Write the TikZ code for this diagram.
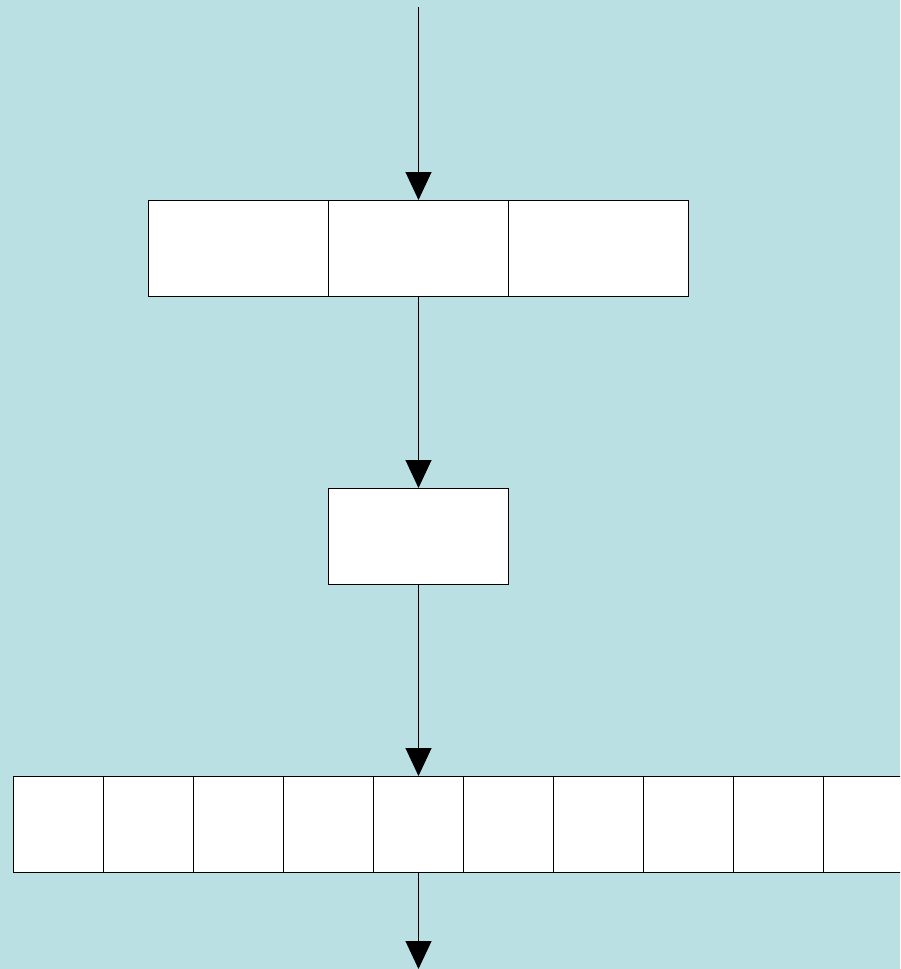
\documentclass[tikz,border=0pt]{standalone}
\usetikzlibrary{arrows.meta}
\definecolor{bgblue}{HTML}{BBE0E3}
\tikzset{
  cell/.style={draw=black, fill=white, line width=1pt, inner sep=0pt, outer sep=0pt, minimum width=#1, minimum height=96pt},
  cell/.default=180pt,
  flow/.style={draw=black, line width=1pt, -{Triangle[width=26pt,length=28pt]}}
}
\begin{document}
\begin{tikzpicture}[x=1pt,y=-1pt]
\fill[bgblue] (0,0) rectangle (900,969);
\useasboundingbox (0,0) rectangle (900,969);
\clip (0,0) rectangle (900,969);
% top row
\node[cell] (a1) at (238.5,248) {};
\node[cell] (a2) at (418.5,248) {};
\node[cell] (a3) at (598.5,248) {};
% middle box
\node[cell] (m) at (418.5,536) {};
% bottom row
\foreach \i in {1,...,10}{
  \node[cell=90pt] (r\i) at ({13.5+90*(\i-1)+45},824) {};
}
\coordinate (start) at (418.5,7);
\coordinate (end) at (418.5,969);
\draw[flow] (start) -- (a2.north);
\draw[flow] (a2.south) -- (m.north);
\draw[flow] (m.south) -- (r5.north);
\draw[flow] (r5.south) -- (end);
\end{tikzpicture}
\end{document}
